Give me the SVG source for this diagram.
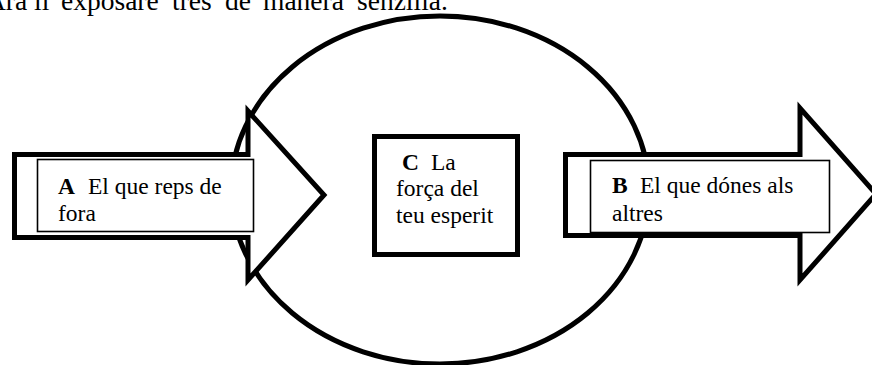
<svg xmlns="http://www.w3.org/2000/svg" width="872" height="365" viewBox="0 0 872 365">
<style>
text{font-family:"Liberation Serif","Times New Roman",serif;font-size:23.5px;fill:#000}
.b{font-weight:bold}
.thick{fill:#fff;stroke:#000;stroke-width:5;stroke-linejoin:miter}
.thin{fill:#fff;stroke:#000;stroke-width:1.6}
</style>
<rect width="872" height="365" fill="#fff"/>
<text id="intro" y="10" style="font-size:27.5px"><tspan x="-14">Ara</tspan><tspan x="34">li</tspan><tspan x="61">exposaré</tspan><tspan x="172">tres</tspan><tspan x="225">de</tspan><tspan x="263">manera</tspan><tspan x="357">senzilla.</tspan></text>
<g id="circle">
<ellipse cx="440" cy="190" rx="209" ry="174" fill="#fff" stroke="#000" stroke-width="5"/>
</g>
<g id="connectors">
<polygon id="arrowA" class="thick" points="14.5,154.5 248,154.5 248,111 324,195 248,280 248,237.5 14.5,237.5"/>
<polygon id="arrowB" class="thick" points="565.5,154.5 800,154.5 800,108 876,194 800,280 800,235.5 565.5,235.5"/>
</g>
<g id="nodeA">
<rect class="thin" x="37.5" y="159.5" width="216" height="72"/>
<text y="194"><tspan x="58" class="b">A</tspan><tspan x="88">El que reps de</tspan></text>
<text x="58" y="221">fora</text>
</g>
<g id="nodeB">
<rect class="thin" x="590.5" y="160.5" width="239" height="72"/>
<text y="193"><tspan x="612" class="b">B</tspan><tspan x="640">El que dónes als</tspan></text>
<text x="612" y="221">altres</text>
</g>
<g id="nodeC">
<rect class="thick" x="374.5" y="136.5" width="143" height="118"/>
<text y="170"><tspan x="402" class="b">C</tspan><tspan x="431">La</tspan></text>
<text x="396" y="196">força del</text>
<text x="396" y="223">teu esperit</text>
</g>
</svg>
